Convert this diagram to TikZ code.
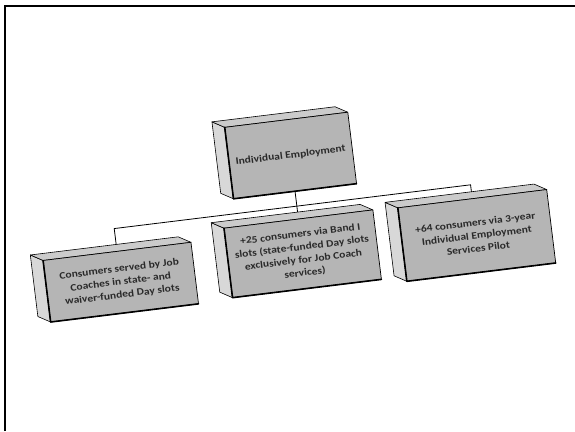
\documentclass[tikz,border=0pt]{standalone}
\usepackage{fontspec}
\setmainfont{Carlito}[FakeStretch=1.15]
\pgfdeclarelayer{bg}
\pgfsetlayers{bg,main}
\definecolor{frontgray}{HTML}{B5B5B5}
\definecolor{sidegray}{HTML}{D8D8D8}
\definecolor{topgray}{HTML}{CBCBCB}
\definecolor{textgray}{HTML}{2A2A2A}
\tikzset{
  slab/.style={draw=black, line width=0.7pt, fill=frontgray, text=textgray,
    font=\bfseries\fontsize{10}{13}\selectfont, align=center, inner sep=1pt, transform shape},
  link/.style={draw=black, line width=0.8pt},
  facel/.style={fill=sidegray, draw=black, line width=0.6pt, line join=round},
  facet/.style={fill=topgray, draw=black, line width=0.6pt, line join=round},
  edgeheavy/.style={draw=black, line width=1.6pt, line cap=round, line join=round}
}
\newcommand{\slabbox}[6]{%
  \path[facel] ({#2-#4/2},{#3-#5/2}) -- ({#2-#4/2},{#3+#5/2}) -- ({#2-#4/2-12},{#3+#5/2+7}) -- ({#2-#4/2-12},{#3-#5/2+7}) -- cycle;
  \path[facet] ({#2-#4/2},{#3+#5/2}) -- ({#2+#4/2},{#3+#5/2}) -- ({#2+#4/2-12},{#3+#5/2+7}) -- ({#2-#4/2-12},{#3+#5/2+7}) -- cycle;
  \node[slab, minimum width=#4, minimum height=#5] (#1) at (#2,#3) {#6};
  \path[edgeheavy] ({#2-#4/2},{#3+#5/2}) -- ({#2-#4/2},{#3-#5/2}) -- ({#2+#4/2},{#3-#5/2});
}
\begin{document}
\begin{tikzpicture}[x=1pt,y=1pt]
\useasboundingbox (0,0) rectangle (575,-431);
\draw[line width=1.6pt] (5,-431) -- (5,-6) -- (575,-6);
\begin{scope}[rotate around={7:(300,-240)}]
  \slabbox{top}{301}{-155}{124}{72}{Individual Employment}
  \slabbox{l}{117}{-260}{149}{62}{Consumers served by Job\\Coaches in state- and\\waiver-funded Day slots}
  \slabbox{m}{301}{-254}{150}{70}{+25 consumers via Band I\\slots (state-funded Day slots\\exclusively for Job Coach\\services)}
  \slabbox{r}{476}{-257}{150}{74}{+64 consumers via 3-year\\Individual Employment\\Services Pilot}
  \coordinate (bl) at (117,-206);
  \coordinate (br) at (476,-206);
  \begin{pgfonlayer}{bg}
    \draw[link] (top.south) -- (m.north);
    \draw[link] (l.north) -- (bl) -- (br) -- (r.north);
  \end{pgfonlayer}
\end{scope}
\end{tikzpicture}
\end{document}
